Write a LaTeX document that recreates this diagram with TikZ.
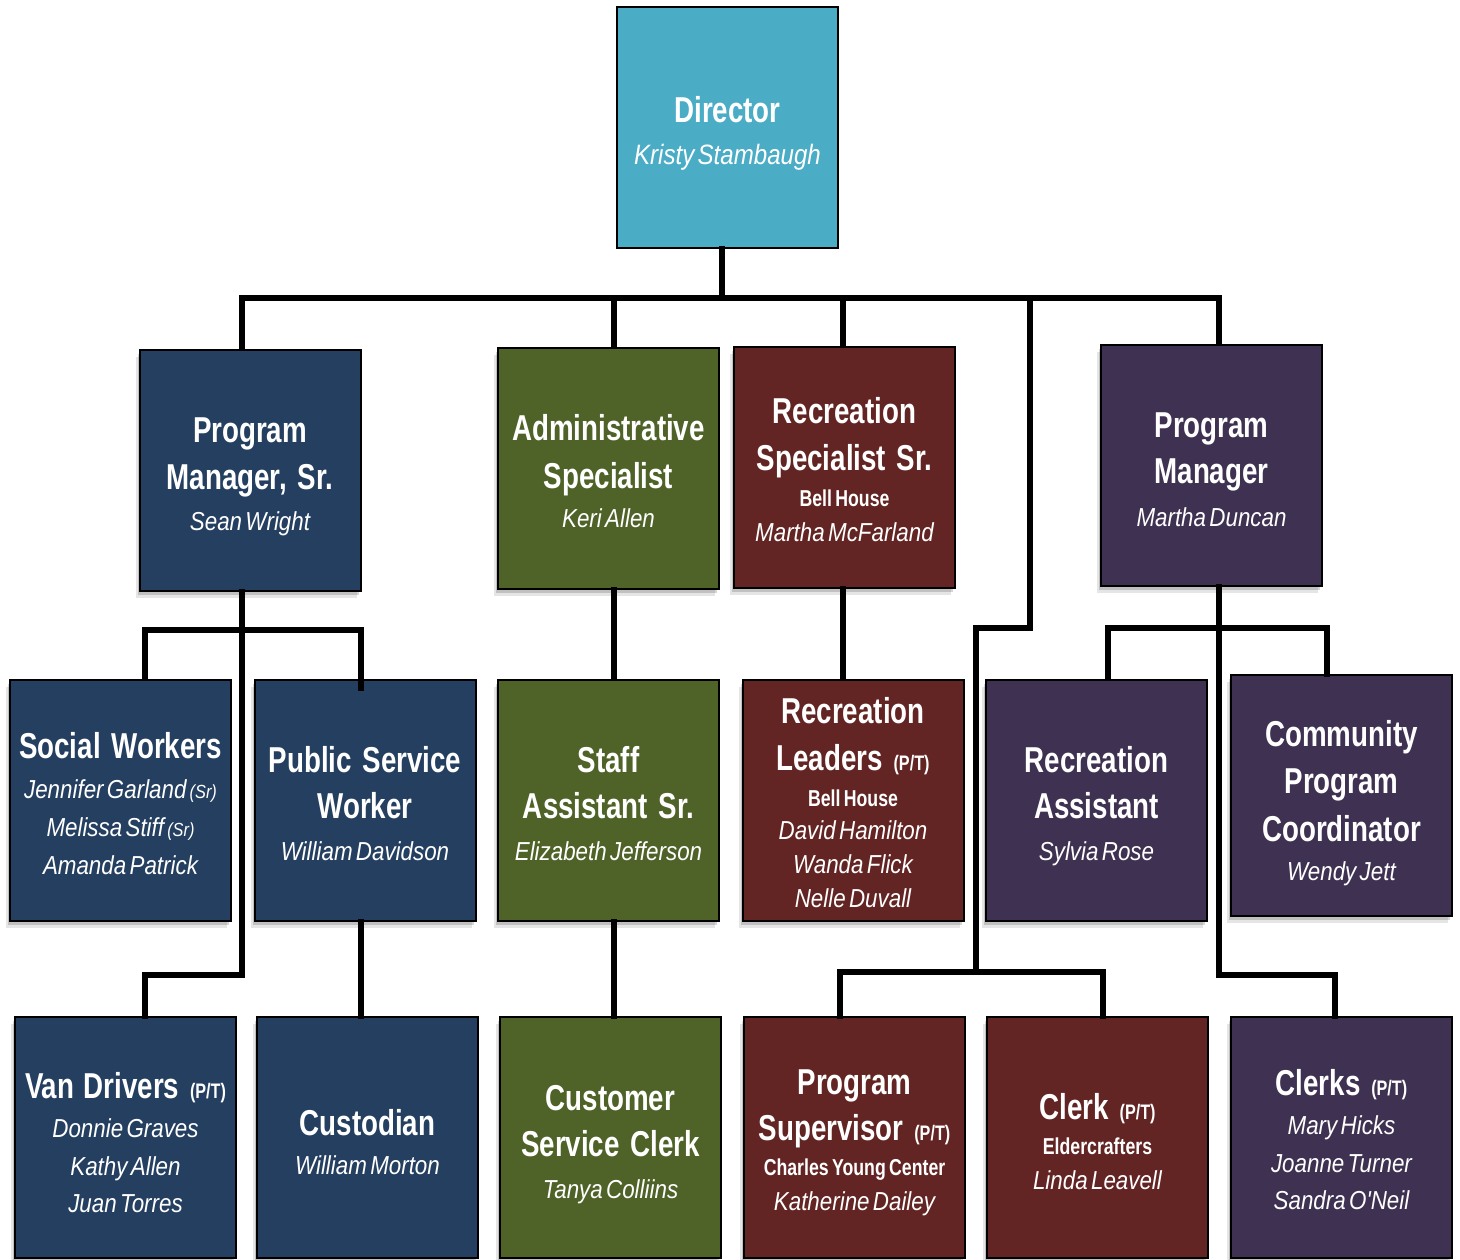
\documentclass[tikz,border=0pt]{standalone}
\usepackage{fontspec}
\setmainfont{Liberation Sans}
\newfontfamily\tfont{Liberation Sans}[FakeStretch=0.77]
\newfontfamily\nfont{Liberation Sans}[FakeStretch=0.86]
\usetikzlibrary{shadows}
\definecolor{cteal}{HTML}{4BACC6}
\definecolor{cnavy}{HTML}{243F60}
\definecolor{colive}{HTML}{4F6228}
\definecolor{cred}{HTML}{632523}
\definecolor{cpurple}{HTML}{3F3151}
\newcommand\TL[2][47]{{\tfont\bfseries\fontsize{36}{#1}\selectfont\noindent\hbox to\hsize{\hss#2\hss}\par}}
\newcommand\NL[2][38]{{\nfont\itshape\fontsize{26}{#1}\selectfont\noindent\hbox to\hsize{\hss#2\hss}\par}}
\newcommand\DL[2][40]{{\nfont\itshape\fontsize{28}{#1}\selectfont\noindent\hbox to\hsize{\hss#2\hss}\par}}
\newcommand\SL[2][36]{{\tfont\bfseries\fontsize{23}{#1}\selectfont\noindent\hbox to\hsize{\hss#2\hss}\par}}
\newcommand\PT{\hspace{0.3em}{\fontsize{21}{21}\selectfont(P/T)}}
\newcommand\SR{\hspace{0.12em}{\fontsize{19}{19}\selectfont(Sr)}}
\newcommand\gap{\hspace{0.3em}}
\newcommand\wsp{\hspace{0.26em}}
% #1 = distance from top of the box to the first baseline
\newcommand\BX[2]{\noindent\vbox to 239pt{\parskip=0pt\vskip\dimexpr#1pt-47pt\relax\prevdepth=0pt #2\vss}}
\tikzset{
  plainbox/.style={draw=black, line width=2pt, minimum width=221pt, minimum height=241pt,
    inner sep=0pt, text width=213pt, align=center, text=white},
  box/.style={plainbox,
    general shadow={shadow xshift=-4pt,shadow yshift=-7pt,fill=black,opacity=.10},
    general shadow={shadow xshift=-2pt,shadow yshift=-4pt,fill=black,opacity=.16}},
  conn/.style={line width=5.5pt, line join=miter, line cap=rect, draw=black}
}
\begin{document}
\begin{tikzpicture}[x=1pt,y=-1pt]
\fill[white] (0,0) rectangle (1460,1260);
\useasboundingbox (0,0) rectangle (1460,1260);

% Level 0
\node[plainbox,fill=cteal] (dir) at (727.5,127.5) {\BX{115}{\TL{Director}\DL[42]{Kristy Stambaugh}}};

% Level 1
\node[box,fill=cnavy] (pms) at (250,470) {\BX{91.5}{\TL{Program}\TL{Manager,\gap Sr.}\NL[41]{Sean Wright}}};
\node[box,fill=colive] (adm) at (608.5,468) {\BX{91.5}{\TL{Administrative}\TL[48]{Specialist}\NL[39]{Keri Allen}}};
\node[box,fill=cred] (rss) at (844.5,467) {\BX{76}{\TL{Recreation}\TL{Specialist\gap Sr.}\SL[36]{Bell House}\NL[35]{Martha McFarland}}};
\node[box,fill=cpurple] (pm) at (1211.5,465) {\BX{91.5}{\TL{Program}\TL[46]{Manager}\NL[43]{Martha Duncan}}};

% Level 2
\node[box,fill=cnavy] (sw) at (120.5,800) {\BX{78}{\TL{Social\gap Workers}\NL[40]{Jennifer Garland\SR}\NL[38]{Melissa Stiff\SR}\NL[38]{Amanda Patrick}}};
\node[box,fill=cnavy] (psw) at (365,800) {\BX{91.5}{\TL{Public\gap Service}\TL[46]{Worker}\NL[42]{William Davidson}}};
\node[box,fill=colive] (sas) at (608.5,800) {\BX{91.5}{\TL{Staff}\TL[46]{Assistant\gap Sr.}\NL[42]{Elizabeth Jefferson}}};
\node[box,fill=cred] (rl) at (853,800) {\BX{43}{\TL{Recreation}\TL{Leaders\PT}\SL[36]{Bell House}\NL[33]{David Hamilton}\NL[34]{Wanda Flick}\NL[34]{Nelle Duvall}}};
\node[box,fill=cpurple] (ra) at (1096.5,800) {\BX{91.5}{\TL{Recreation}\TL[46]{Assistant}\NL[42]{Sylvia Rose}}};
\node[box,fill=cpurple] (cpc) at (1341.5,795.5) {\BX{70}{\TL{Community}\TL{Program}\TL[48]{Coordinator}\NL[39]{Wendy Jett}}};

% Level 3
\node[box,fill=cnavy] (vd) at (125.5,1137.5) {\BX{80}{\TL{Van\wsp Drivers\PT}\NL[39]{Donnie Graves}\NL[38]{Kathy Allen}\NL[37]{Juan Torres}}};
\node[box,fill=cnavy] (cus) at (367.5,1137.5) {\BX{117}{\TL{Custodian}\NL[39]{William Morton}}};
\node[box,fill=colive] (csc) at (610.5,1137.5) {\BX{92}{\TL{Customer}\TL[46]{Service\gap Clerk}\NL[42]{Tanya Colliins}}};
\node[box,fill=cred] (ps) at (854.5,1137.5) {\BX{76}{\TL{Program}\TL[46]{Supervisor\PT}\SL[35]{Charles Young Center}\NL[35]{Katherine Dailey}}};
\node[box,fill=cred] (clk) at (1097.5,1137.5) {\BX{101}{\TL{Clerk\PT}\SL[35]{Eldercrafters}\NL[35]{Linda Leavell}}};
\node[box,fill=cpurple] (clks) at (1341.5,1137.5) {\BX{77}{\TL{Clerks\PT}\NL[39]{Mary Hicks}\NL[38]{Joanne Turner}\NL[37]{Sandra O'Neil}}};

% attachment points
\coordinate (dirB) at ([xshift=-5.5pt]dir.south);
\coordinate (pmsT) at ([xshift=-8pt]pms.north);
\coordinate (pmsB) at ([xshift=-8pt]pms.south);
\coordinate (admT) at ([xshift=5.5pt]adm.north);
\coordinate (admB) at ([xshift=5.5pt]adm.south);
\coordinate (rssT) at ([xshift=-1.5pt]rss.north);
\coordinate (rssB) at ([xshift=-1.5pt]rss.south);
\coordinate (pmT) at ([xshift=7.5pt]pm.north);
\coordinate (pmB) at ([xshift=7.5pt]pm.south);
\coordinate (swT) at ([xshift=24.5pt]sw.north);
\coordinate (pswT) at ([xshift=-4pt]psw.north);
\coordinate (pswB) at ([xshift=-4pt]psw.south);
\coordinate (raT) at ([xshift=11.5pt]ra.north);
\coordinate (cpcT) at ([xshift=-14.5pt]cpc.north);
\coordinate (vdT) at ([xshift=19.5pt]vd.north);
\coordinate (psT) at ([xshift=-14.5pt]ps.north);
\coordinate (clkT) at ([xshift=5.5pt]clk.north);
\coordinate (clksT) at ([xshift=-6.5pt]clks.north);
\coordinate (busA) at (0,298);
\coordinate (busB) at (0,630);
\coordinate (busC) at (0,975);
\coordinate (busD) at (0,628);
\coordinate (busE) at (0,972);
\coordinate (xr) at (1030,0);
\coordinate (xl) at (976,0);

% connectors
\draw[conn] (pmsT) |- (pmT |- busA) -- (pmT);
\draw[conn] (dirB) -- (dirB |- busA);
\draw[conn] (admT) -- (admT |- busA);
\draw[conn] (rssT) -- (rssT |- busA);
\draw[conn] (xr |- busA) -- (xr |- busD) -| (xl |- busE);
\draw[conn] (psT) |- (clkT |- busE) -- (clkT);

\draw[conn] (pmsB) |- (vdT |- busC) -- (vdT);
\draw[conn] (swT) |- (pswT |- busB) -- ([yshift=-10pt]pswT);
\draw[conn] (pswB) -- (pswB |- cus.north);

\draw[conn] (admB) -- (admB |- sas.north);
\draw[conn] (admB |- sas.south) -- (admB |- csc.north);
\draw[conn] (rssB) -- (rssB |- rl.north);

\draw[conn] (pmB) |- (clksT |- busC) -- (clksT);
\draw[conn] (raT) |- (cpcT |- busD) -- (cpcT);
\end{tikzpicture}
\end{document}
